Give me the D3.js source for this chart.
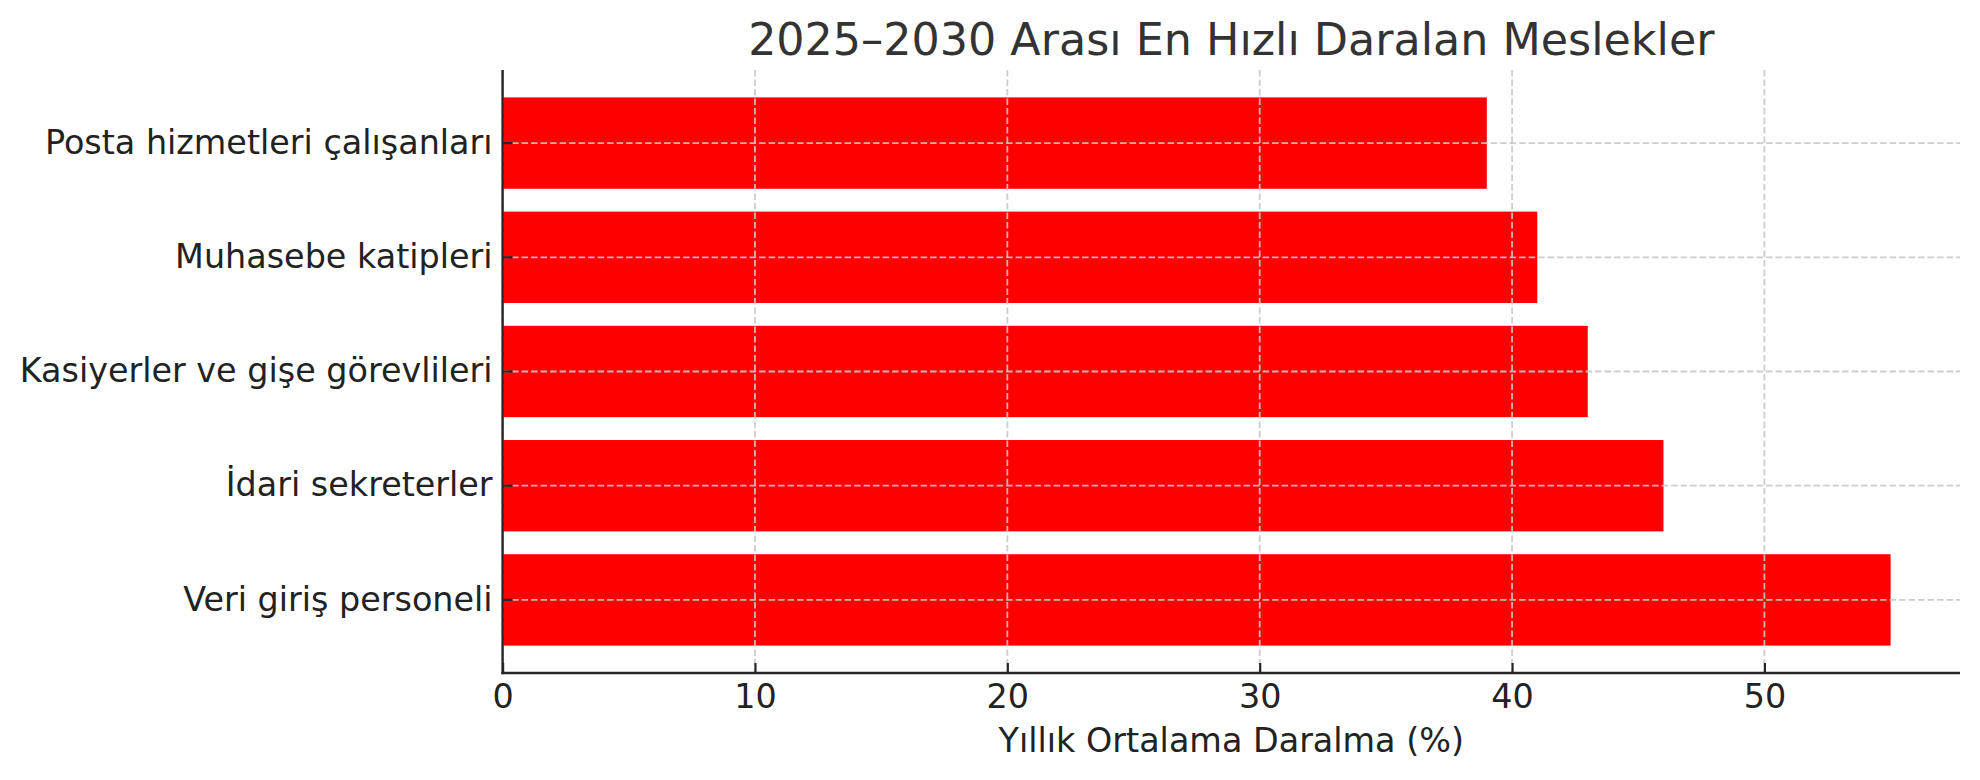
<!DOCTYPE html>
<html>
<head>
<meta charset="utf-8">
<script src="https://cdn.jsdelivr.net/npm/d3@7"></script>
<style>
  html, body { margin: 0; padding: 0; background: #fff; }
  svg { display: block; font-family: "DejaVu Sans", sans-serif; }
</style>
</head>
<body>
<svg id="chart" width="1980" height="780"></svg>
<script>
const categories = [
  "Veri giriş personeli",
  "İdari sekreterler",
  "Kasiyerler ve gişe görevlileri",
  "Muhasebe katipleri",
  "Posta hizmetleri çalışanları"
];
const values = [55, 46, 43, 41, 39];
const xTicks = [0, 10, 20, 30, 40, 50];
const titleText = "2025–2030 Arası En Hızlı Daralan Meslekler";
const xLabelText = "Yıllık Ortalama Daralma (%)";

const svg = d3.select("#chart");
const margin = { left: 502.6, right: 1960, top: 70, bottom: 673 };

const xMax = d3.max(values) * 1.05;
const x = d3.scaleLinear().domain([0, xMax]).range([margin.left, margin.right]);
const y = d3.scaleBand()
  .domain(categories.slice().reverse())
  .range([margin.top, margin.bottom])
  .paddingInner(0.2)
  .paddingOuter(0.24);

const data = categories.map((c, i) => ({ cat: c, val: values[i] }));

// bars
svg.append("g").selectAll("rect").data(data).join("rect")
  .attr("x", x(0))
  .attr("y", d => y(d.cat))
  .attr("width", d => x(d.val) - x(0))
  .attr("height", y.bandwidth())
  .attr("fill", "#ff0000");

// grid (drawn above bars)
const gridColor = "#c8c8c8";
const grid = svg.append("g").attr("class", "grid");
grid.selectAll("line.gx").data(xTicks).join("line")
  .attr("class", "gx")
  .attr("x1", d => x(d)).attr("x2", d => x(d))
  .attr("y1", margin.top).attr("y2", margin.bottom)
  .attr("stroke", gridColor).attr("stroke-opacity", 0.9)
  .attr("stroke-width", 1.8).attr("stroke-dasharray", "6.5,3");
grid.selectAll("line.gy").data(categories).join("line")
  .attr("class", "gy")
  .attr("x1", margin.left).attr("x2", margin.right)
  .attr("y1", d => y(d) + y.bandwidth() / 2).attr("y2", d => y(d) + y.bandwidth() / 2)
  .attr("stroke", gridColor).attr("stroke-opacity", 0.9)
  .attr("stroke-width", 1.8).attr("stroke-dasharray", "6.5,3");

// x axis
const xAxis = svg.append("g")
  .attr("transform", `translate(0,${margin.bottom})`)
  .call(d3.axisBottom(x).tickValues(xTicks).tickFormat(d3.format("d"))
    .tickSizeInner(-10).tickSizeOuter(0).tickPadding(10));
xAxis.select(".domain").remove();
xAxis.selectAll(".tick line").attr("stroke", "#262626").attr("stroke-width", 2.2);
xAxis.selectAll(".tick text").attr("fill", "#222").attr("font-size", 33.4)
  .attr("font-family", "DejaVu Sans").attr("dy", "0.76em");

// y axis
const yAxis = svg.append("g")
  .attr("transform", `translate(${margin.left},0)`)
  .call(d3.axisLeft(y).tickSizeInner(-10).tickSizeOuter(0).tickPadding(10));
yAxis.select(".domain").remove();
yAxis.selectAll(".tick line").attr("stroke", "#262626").attr("stroke-width", 2.2);
yAxis.selectAll(".tick text").attr("fill", "#222").attr("font-size", 33.4)
  .attr("font-family", "DejaVu Sans");

// spines
svg.append("line")
  .attr("x1", margin.left).attr("x2", margin.left)
  .attr("y1", margin.top).attr("y2", margin.bottom + 1.2)
  .attr("stroke", "#262626").attr("stroke-width", 2.4);
svg.append("line")
  .attr("x1", margin.left - 1.2).attr("x2", margin.right)
  .attr("y1", margin.bottom).attr("y2", margin.bottom)
  .attr("stroke", "#262626").attr("stroke-width", 2.4);

// title
svg.append("text")
  .attr("x", (margin.left + margin.right) / 2)
  .attr("y", 55)
  .attr("text-anchor", "middle")
  .attr("font-size", 44.4)
  .attr("fill", "#333")
  .text(titleText);

// x label
svg.append("text")
  .attr("x", (margin.left + margin.right) / 2)
  .attr("y", 752)
  .attr("text-anchor", "middle")
  .attr("font-size", 33.4)
  .attr("fill", "#222")
  .text(xLabelText);
</script>
</body>
</html>
